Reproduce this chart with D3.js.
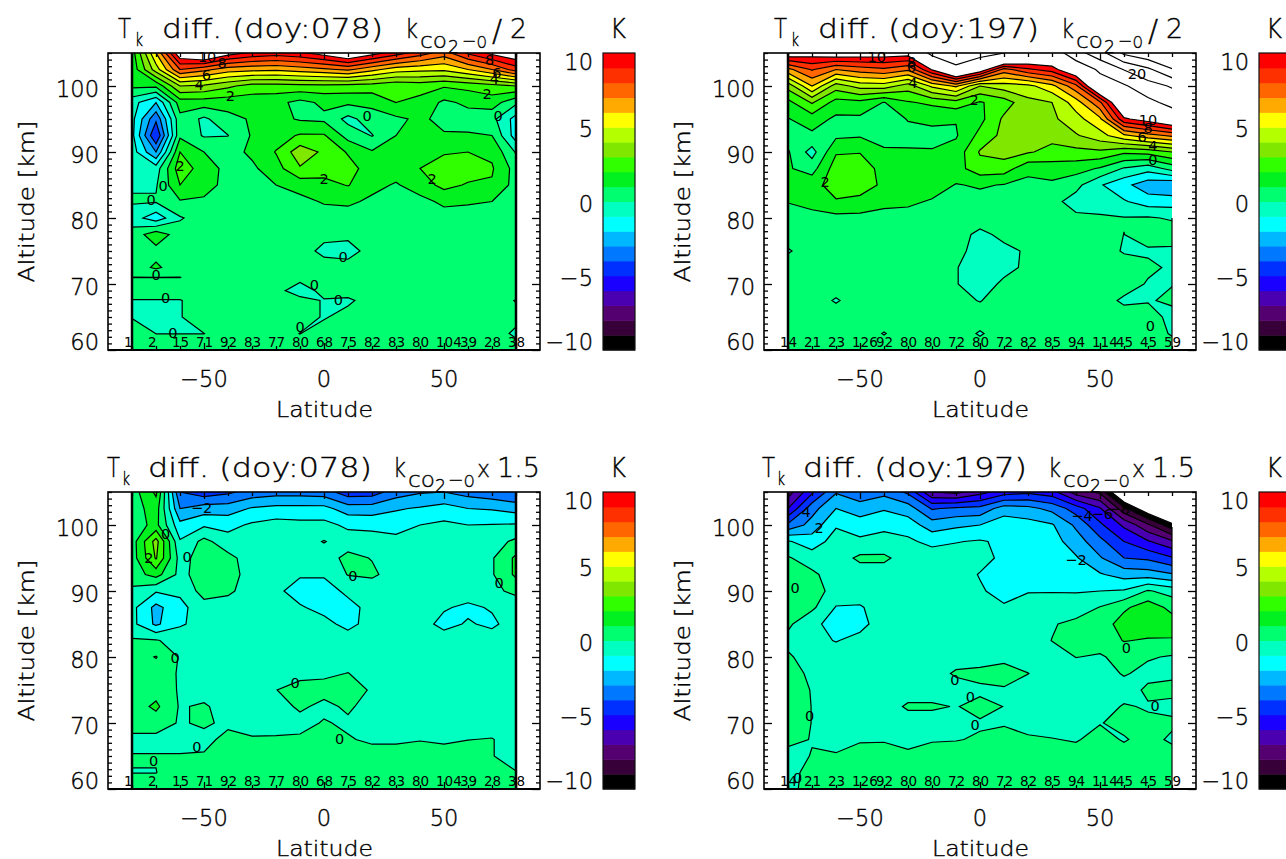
<!DOCTYPE html>
<html><head><meta charset="utf-8">
<script src="https://cdn.jsdelivr.net/npm/d3@7"></script>
<style>
html,body{margin:0;padding:0;background:#fff;overflow:hidden}
svg{display:block}
text{font-family:"DejaVu Sans",sans-serif;font-weight:200;fill:#000;stroke:#000;stroke-width:.4}
text.cl{font-weight:400;stroke-width:0}
</style></head><body><svg id="c" width="1286" height="859"></svg>
<script>
const lats=[-80,-70,-60,-50,-40,-30,-20,-10,0,10,20,30,40,50,60,70,80];
const alts=[105,102.5,100,97.5,95,92.5,90,87.5,85,82.5,80,77.5,75,72.5,70,67.5,65,62.5,60];
const altsFine=[105,102.5,100,97.5,95,92.5,90,87.5,85,82.5,80,77.5,75,72.5,71,69,67.5,65,62.5,60];
const countsDoy078=[1,2,15,71,92,83,77,80,68,75,82,83,80,104,39,28,38];
const countsDoy197=[14,21,23,126,92,80,80,72,80,72,82,85,94,114,45,45,59];
const levels=[-10,-9,-8,-7,-6,-5,-4,-3,-2,-1,0,1,2,3,4,5,6,7,8,9,10];
const extraLineLevels=[15,20,25,30];
const bandColors=["#000000","#380038","#550070","#4a00b0","#1a00ff","#0030ff","#0078ff","#00b8ff","#00ffff","#00ffc0","#00ff70","#00f020","#30ff00","#80e800","#b4ff00","#ffff00","#ffaa00","#ff6600","#ff3000","#ff0000"];
const tickAlts=[60,70,80,90,100];
const tickLats=[-50,0,50];
const barLabels=[10,5,0,-5,-10];

const diff078half=[
[1.5,6,11,12,10.5,9.8,9.5,9.8,10.5,11.5,10.5,9.5,8.5,7.5,9.2,10.3,11],
[1.3,4.5,8,7.3,6.5,6.3,6.2,6.5,6.8,7.2,6.3,5.5,5.3,5.2,6,7,8.5],
[1.2,1.2,4,3.8,3.2,2.6,2.6,2.7,2.7,2.6,2.5,2.2,2.4,2.1,2.3,2.6,3],
[-.6,-2,1.5,1.5,1.4,1.4,1.3,.7,1.2,1.2,1.3,2,1.7,.8,1.2,1.5,.2],
[-.7,-3.8,.7,-.2,.7,1.1,1.3,.9,.8,-.3,.5,.8,1.2,.7,.6,.3,-1.4],
[-.7,-5,.8,-.1,-.02,1.1,1.6,2.1,2.1,.6,-.05,1,1.3,1.1,1.1,1,-1.5],
[-.5,-3,2,1,.6,1.2,2.05,3.6,2.8,1.9,1.1,1.4,1.6,1.9,2,1.8,-.1],
[-.3,-.5,2.6,1.5,.7,.8,1.6,2.9,2.4,2.4,1.5,1.5,2,2.5,2.5,2.1,.6],
[-.1,-.1,2,1.5,.6,.7,1,1.4,1.7,2.05,1.3,.9,1.5,2.3,1.9,1.9,.6],
[.1,.1,.9,.8,.5,.5,.5,.7,1.1,1.2,.8,.6,.7,1.2,1.1,1,.5],
[-.5,-1.6,-.1,.5,.5,.5,.5,.5,.5,.5,.5,.5,.5,.6,.6,.6,.5],
[.4,1.6,.5,.5,.5,.5,.5,.5,.3,.3,.5,.5,.5,.5,.5,.5,.5],
[.5,.7,.5,.5,.5,.5,.5,.5,-.3,-.5,.5,.5,.5,.5,.5,.5,.5],
[.5,1.15,.5,.5,.5,.5,.5,.5,.5,.5,.5,.5,.5,.5,.5,.5,.5],
[-.01,-.01,-.01,.5,.5,.5,.5,.5,.5,.5,.5,.5,.5,.5,.5,.5,.5],
[.5,.5,.5,.5,.5,.5,.5,-.8,.5,.5,.5,.5,.5,.5,.5,.5,.5],
[-.05,-.05,-.05,.5,.5,.5,.5,.5,-.1,-.2,.5,.5,.5,.5,.5,.5,-.05],
[-.05,-.05,-.05,.5,.5,.5,.5,.5,-.1,.4,.5,.5,.5,.5,.5,.5,.3],
[.5,-.01,-.01,-.01,.5,.5,.5,-.02,.5,.5,.5,.5,.5,.5,.5,.5,-.2],
[.5,.5,.5,.5,.5,.5,.5,.5,.5,.5,.5,.5,.5,.5,.5,.5,.5]];

const diff197half=[
[11,10.6,11,10.8,10.7,10.6,16,20,16.5,15,12.5,12,18,23,31,34,38],
[6.7,8.1,7,7.5,7.8,7.2,10.1,13,11,7.6,8.8,9.5,11.5,15.8,20.2,24,29.5],
[3.4,6,3.5,4.4,4.5,3.5,5.2,6.2,4,4.5,4.7,5.7,7.7,12.5,14.4,18,20.5],
[1.7,3.1,1.6,1.7,.95,1.9,2.2,2.6,1.9,2.5,3.7,4,5.5,7.8,12.3,13.7,16.5],
[.95,1.5,.8,.8,.5,1.05,1.15,1.05,1.7,3.2,3.6,3.8,4.6,5.8,9.8,10.6,11.8],
[.6,.8,.8,.9,.75,.7,.8,.9,2.3,3.3,3.5,3.3,3.9,4.6,5.8,6.6,7.2],
[1.1,-.4,1.9,1.95,1.1,1.1,1.05,1.4,3.1,3.4,3.1,2.7,2.7,2.8,2.2,2.4,3],
[1.1,.6,2.5,2.6,1.6,1.5,1.5,1.6,2.6,2.5,1.3,1.5,1.4,.9,-.1,-.6,.4],
[1.2,1.6,2.5,2.5,1.8,1.6,1.5,.95,1.1,.95,.7,.8,.3,-.9,-1.7,-2.6,-2.9],
[1.05,1.3,1.9,1.7,1.3,1.2,.9,.7,.7,.6,.6,.3,-.4,-.7,-.9,-1.5,-1.5],
[.5,.7,.7,.7,.6,.6,.5,.5,.6,.5,.5,.5,.2,.2,.05,.1,-.1],
[.5,.5,.5,.5,.5,.5,.5,.5,-.3,.3,.5,.5,.5,.5,-.01,.5,.5],
[-.1,.5,.5,.5,.5,.5,.5,.3,-.4,-.3,.15,.5,.5,.5,-.1,-.15,-.2],
[.5,.5,.5,.5,.5,.5,.5,.05,-.5,-.3,.2,.5,.5,.5,.5,.2,-.15],
[.5,.5,.5,.5,.5,.5,.5,.05,-.5,.2,.5,.5,.5,.5,.5,-.1,-.02],
[.5,.5,-.1,.5,.5,.5,.5,.3,-.05,.5,.5,.5,.5,.5,-.2,-.05,.1],
[.5,.5,.5,.5,.5,.5,.5,.5,.5,.5,.5,.5,.5,.5,.5,.3,-.2],
[.5,.5,.5,.5,-.05,.5,.5,.5,-.1,.5,.5,.5,.5,.5,.5,.5,-.1],
[.5,.5,.5,.5,.5,.5,.5,.5,.5,.5,.5,.5,.5,.5,.5,.5,.5]];

const diff078x15=[
[.5,2.2,-4,-4.6,-4.2,-3.6,-3.4,-3.4,-3.5,-4.6,-4.5,-3.5,-3.1,-3,-3.4,-3.7,-4],
[.5,1.5,-3,-2.5,-2.5,-1.9,-1.7,-1.7,-1.7,-2.5,-2.5,-2.1,-1.9,-1.6,-2,-2.1,-2.4],
[.5,1.3,-1.7,-1.15,-1.3,-.85,-.6,-.7,-.7,-1.2,-1.3,-1.4,-1,-.8,-1,-.95,-.9],
[.5,3.4,-.9,.3,-.6,-.6,-.5,-.45,.05,-.5,-.5,-.7,-.5,-.4,-.5,-.4,.2],
[.5,3.1,-.4,.5,.3,-.5,-.5,-.5,-.5,.3,-.05,-.5,-.5,-.5,-.5,-.1,1.2],
[.5,1.4,-.3,.5,.5,-.5,-.7,-.9,-.9,.05,.2,-.5,-.5,-.5,-.5,-.1,1.2],
[-.2,-.9,-.8,.4,.2,-.5,-.8,-1.4,-1.4,-.8,-.7,-.5,-.5,-.5,-.5,-.2,.2],
[-.7,-2.3,-1.3,-.4,-.5,-.5,-.6,-.9,-1.3,-1.3,-.7,-.5,-.7,-.9,-1.2,-.9,-.5],
[-.7,-2.2,-1.1,-.7,-.5,-.5,-.5,-.6,-.7,-1.3,-.6,-.5,-.6,-1.3,-.9,-1.2,-.5],
[.1,.1,-.5,-.5,-.5,-.5,-.5,-.5,-.5,-.5,-.5,-.5,-.5,-.5,-.5,-.5,-.5],
[.5,1.05,-.1,-.5,-.5,-.5,-.5,-.5,-.5,-.5,-.5,-.5,-.5,-.5,-.5,-.5,-.5],
[.5,.5,-.1,-.5,-.5,-.5,-.5,-.3,-.2,.03,-.5,-.5,-.5,-.5,-.5,-.5,-.5],
[.5,.6,-.1,-.5,-.5,-.5,-.02,.4,.4,.4,-.1,-.5,-.5,-.5,-.5,-.5,-.5],
[.5,1.2,-.1,.15,-.5,-.5,-.5,.2,-.3,.2,-.5,-.5,-.5,-.5,-.5,-.5,-.5],
[.5,.5,-.1,.15,-.2,-.4,-.5,-.4,.1,-.2,-.5,-.5,-.5,-.5,-.5,-.5,-.5],
[-.3,-.3,-.3,-.3,.3,.1,.15,.2,.4,.1,-.2,-.2,-.05,-.2,-.02,.05,-.5],
[.05,.05,.05,.1,.5,.5,.5,.5,.5,.5,.5,.5,.5,.5,.5,.05,-.5],
[-.02,-.02,.5,.5,.5,.5,.5,.5,.5,.5,.5,.5,.5,.5,.5,.5,.05],
[.5,.5,.5,.5,.5,.5,.5,.5,.5,.5,.5,.5,.5,.5,.5,.5,.5]];

const diff197x15=[
[-7.5,-5.2,-3.1,-3.7,-3.3,-4.2,-7,-7.3,-6.4,-5.5,-5.2,-5.6,-7.5,-8.2,-12,-14,-18],
[-6,-3.4,-2,-2.5,-2.1,-2.5,-4.1,-3.8,-3.7,-2.5,-2.7,-3.3,-4.5,-5.9,-8.7,-11,-13],
[-3.8,-2.6,-1.1,-1.5,-1.2,-1.5,-2.5,-2.2,-2,-1.4,-1.6,-1.9,-3.2,-4.8,-6.2,-7.8,-9.7],
[-.9,-1.5,-.6,-.8,-.7,-.8,-1.3,-1.05,-.9,-1.2,-1.4,-1.6,-2.5,-3.7,-5,-5.9,-6.8],
[.1,-.5,-.5,.2,.2,-.5,-.4,-.5,-.7,-1.2,-1.5,-1.6,-1.9,-2.9,-4,-4.2,-4.9],
[.5,.2,-.5,-.5,-.5,-.5,-.5,-.6,-1.05,-1.4,-1.5,-1.4,-1.5,-1.9,-2.4,-2.5,-2.9],
[.6,.6,-.5,-.5,-.5,-.5,-.5,-.6,-.9,-1.3,-1.05,-1.05,-1.05,-1,-.9,.1,-.4],
[.6,.2,-1.05,-1.1,-.5,-.5,-.5,-.5,-.5,-.9,-.6,-.5,-.6,.05,.8,1.6,.7],
[.2,-.8,-1.3,-1.3,-.5,-.5,-.5,-.5,-.5,-.5,-.5,-.1,.3,.4,1.5,1.6,1.5],
[-.3,-.7,-1.05,-.7,-.5,-.5,-.5,-.5,-.5,-.5,-.5,.02,.4,.4,1.05,.9,.9],
[.15,-.5,-.5,-.5,-.5,-.5,-.5,-.5,-.5,-.5,-.5,-.5,.02,-.1,.3,.1,-.1],
[.1,-.05,-.5,-.5,-.5,-.5,-.5,.15,.3,.8,.02,-.5,-.5,-.5,.1,-.3,-.2],
[.5,-.05,-.5,-.5,-.5,-.5,-.5,-.5,-.2,-.2,-.5,-.5,-.5,-.5,-.5,.2,.3],
[.5,-.02,-.5,-.5,-.5,.15,.15,-.05,.3,-.02,-.5,-.5,-.5,-.5,.1,-.1,-.3],
[.5,-.02,-.5,-.5,-.5,-.5,-.5,-.3,-.1,-.1,-.5,-.5,-.5,-.05,.3,.2,.2],
[.3,-.05,-.4,-.1,-.1,-.3,-.1,-.05,.1,.4,.2,.05,-.1,.4,-.1,.4,-.2],
[-.4,.05,.1,.4,.5,.2,.5,.5,.5,.5,.5,.5,.5,.5,.5,.5,.5],
[-.4,.4,.5,.5,.5,.5,.5,.5,.5,.5,.5,.5,.5,.5,.5,.5,.5],
[-.3,.4,.5,.5,.5,.5,.5,.5,.5,.5,.5,.5,.5,.5,.5,.5,.5]];

// contour labels: [text, latitude, altitude]
const labels078half=[["10",-48.7,104.4],["8",-42.5,103.5],["6",-49,101.7],["4",-52,100.2],["2",-39,98.5],["2",0,86],["2",-60,88],["0",-72,82.8],["0",-70,71.4],["0",-66,68],["0",-63,62.6],["0",-67,85],["0",18,95.5],["2",68,98.8],["0",72.5,95.6],["8",69,104],["6",72,102.1],["4",71,101.2],["2",45,86],["0",8,74.2],["0",6,67.7],["0",-4,70],["0",-10,63.5]];
const labels197half=[["10",-43,104.4],["8",-28.5,103.7],["6",-28.5,102.9],["4",-28,100.6],["2",-2.5,97.9],["2",-64.5,85.6],["20",65.4,101.9],["10",70,95],["8",70,93.7],["6",67.5,92.3],["4",72,91],["0",72,88.9],["0",71,63.7]];
const labels078x15=[["−2",-51,102.7],["0",-57,95.2],["0",-62,79.9],["0",-53,66.4],["0",-12,76.2],["0",-71,64.3],["0",-66,98.7],["2",-73,95.1],["0",12,92.4],["0",73,91.3],["0",6.5,67.7]];
const labels197x15=[["4",-72.5,102],["2",-67,99.6],["0",-77,90.6],["0",-71,71.1],["0",-76,61.8],["0",-10.5,76.6],["0",-4,74],["0",-2,69.7],["−4",42.5,101.4],["−6",51,101.8],["−8",58,102.5],["−2",40,94.8],["0",61,81.5],["0",73,72.6]];

const panels=[
 {data:diff078half,rowAlts:altsFine,counts:countsDoy078,labels:labels078half,x0:108,y0:53,doy:"078",tail:"/2",edgeR:[0,297],edgeRw:2.5},
 {data:diff197half,rowAlts:alts,counts:countsDoy197,labels:labels197half,x0:764,y0:53,doy:"197",tail:"/2",edgeR:[165,297],edgeRw:1.2},
 {data:diff078x15,rowAlts:alts,counts:countsDoy078,labels:labels078x15,x0:108,y0:492,doy:"078",tail:"x1.5",edgeR:[0,297],edgeRw:2.5},
 {data:diff197x15,rowAlts:alts,counts:countsDoy197,labels:labels197x15,x0:764,y0:492,doy:"197",tail:"x1.5",edgeR:[35,297],edgeRw:1.2}
];
const W=432,H=297;
const svg=d3.select("#c");
const fmt=d=>String(d).replace("-","−");

function T(g,s,x,y,size,len,anchor){
  const t=g.append("text").attr("x",x).attr("y",y).attr("font-size",size).text(s);
  if(len){t.attr("textLength",len).attr("lengthAdjust","spacingAndGlyphs");}
  if(anchor)t.attr("text-anchor",anchor);
  return t;
}

panels.forEach((p,pi)=>{
  const g=svg.append("g").attr("transform",`translate(${p.x0},${p.y0})`);
  const x=d3.scaleLinear().domain([-90,90]).range([0,W]);
  const y=d3.scaleLinear().domain([60,105]).range([H,0]);
  const cid="clip"+pi;
  g.append("clipPath").attr("id",cid).append("rect")
    .attr("x",x(-80)).attr("y",0).attr("width",x(80)-x(-80)).attr("height",H);
  const sx=d3.scaleLinear().domain(lats.map((_,i)=>i+.5)).range(lats.map(x));
  const sy=d3.scaleLinear().domain(p.rowAlts.map((_,i)=>i+.5)).range(p.rowAlts.map(y));
  const path=d3.geoPath(d3.geoTransform({point(a,b){this.stream.point(sx(a),sy(b));}}));
  const flat=p.data.flat();
  const gen=d3.contours().size([lats.length,p.rowAlts.length]);
  const field=g.append("g").attr("clip-path",`url(#${cid})`);
  levels.forEach((lv,i)=>{
    field.append("path").attr("d",path(gen.contour(flat,lv))).attr("fill",i<20?bandColors[i]:"#fff");
  });
  levels.concat(extraLineLevels).forEach(lv=>{
    field.append("path").attr("d",path(gen.contour(flat,lv))).attr("fill","none").attr("stroke","#000").attr("stroke-width",1.2);
  });
  const lg=g.append("g");
  p.labels.forEach(([s,la,al])=>{
    lg.append("text").attr("class","cl").attr("x",x(la)).attr("y",y(al)+5.5).attr("text-anchor","middle").attr("font-size",14.5).text(s);
  });
  g.append("line").attr("x1",x(-80)).attr("x2",x(-80)).attr("y1",0).attr("y2",H).attr("stroke","#000").attr("stroke-width",2.5);
  g.append("line").attr("x1",x(80)).attr("x2",x(80)).attr("y1",p.edgeR[0]).attr("y2",p.edgeR[1]).attr("stroke","#000").attr("stroke-width",p.edgeRw);
  const minorA=d3.range(60,106).filter(a=>a%10);
  const minorL=lats.filter(l=>l%50);
  const ax=(gen,sel)=>{sel.call(gen);sel.selectAll(".domain").remove();sel.selectAll("text").remove();sel.selectAll("line").attr("stroke","#000").attr("stroke-width",1.3);};
  ax(d3.axisLeft(y).tickValues(tickAlts).tickSize(-8),g.append("g"));
  ax(d3.axisLeft(y).tickValues(minorA).tickSize(-4),g.append("g"));
  ax(d3.axisRight(y).tickValues(tickAlts).tickSize(-8),g.append("g").attr("transform",`translate(${W},0)`));
  ax(d3.axisRight(y).tickValues(minorA).tickSize(-4),g.append("g").attr("transform",`translate(${W},0)`));
  ax(d3.axisBottom(x).tickValues(tickLats).tickSize(-7),g.append("g").attr("transform",`translate(0,${H})`));
  ax(d3.axisBottom(x).tickValues(minorL).tickSize(-4),g.append("g").attr("transform",`translate(0,${H})`));
  ax(d3.axisTop(x).tickValues(tickLats).tickSize(-7),g.append("g"));
  ax(d3.axisTop(x).tickValues(minorL).tickSize(-4),g.append("g"));
  g.append("rect").attr("width",W).attr("height",H).attr("fill","none").attr("stroke","#000").attr("stroke-width",1.6);
  g.append("line").attr("x1",0).attr("x2",W).attr("y1",H).attr("y2",H).attr("stroke","#000").attr("stroke-width",2);
  tickAlts.forEach(a=>{T(g,String(a),-9,a===60?H:y(a)+10.5,22.5,null,"end");});
  tickLats.forEach(l=>{T(g,fmt(l),x(l),H+37,22.5,null,"middle");});
  T(g,"Latitude",x(0)-48,H+67,21,97);
  g.append("text").attr("transform",`translate(-74,${H/2}) rotate(-90)`).attr("text-anchor","middle")
    .attr("font-size",22).attr("textLength",162).attr("lengthAdjust","spacingAndGlyphs").text("Altitude [km]");
  p.counts.forEach((c,i)=>{T(g,String(c),x(lats[i])-8,H-3,13.5).style("font-weight",400).style("stroke-width",0);});
  const bl=-15;
  if(p.tail==="/2"){
    const ox=pi%2?656:0, X=v=>v+ox-p.x0;
    T(g,"T",X(118),bl,27,13);T(g,"k",X(135),bl+8,17,8);
    T(g,`diff. (doy:${p.doy})`,X(162),bl,27,221);
    T(g,"k",X(405),bl,27,13);T(g,"co",X(420),bl+10,22,27);T(g,"2",X(448),bl+15,17,11);T(g,"−o",X(462),bl+10,22,25);
    T(g,"/",X(492),bl+3,30);T(g,"2",X(510),bl,27,17);
  } else {
    const ox=pi%2?655:0, X=v=>v+ox-p.x0;
    T(g,"T",X(107),bl,27,13);T(g,"k",X(122),bl+8,17,8);
    T(g,`diff. (doy:${p.doy})`,X(148),bl,27,224);
    T(g,"k",X(393),bl,27,13);T(g,"co",X(408),bl+10,22,27);T(g,"2",X(435),bl+15,17,11);T(g,"−o",X(448),bl+10,22,27);
    T(g,"x",X(477),bl,23,13);T(g,"1.5",X(497),bl,27,43);
  }
  const bx=W+63, bw=32;
  const cb=d3.scaleLinear().domain([-10,10]).range([H,0]);
  bandColors.forEach((c,i)=>{
    g.append("rect").attr("x",bx).attr("y",cb(levels[i+1])).attr("width",bw).attr("height",cb(levels[i])-cb(levels[i+1])+.5).attr("fill",c);
  });
  g.append("rect").attr("x",bx).attr("y",0).attr("width",bw).attr("height",H).attr("fill","none").attr("stroke","#111").attr("stroke-width",1.2);
  barLabels.forEach(v=>{
    const yy=v===10?17:v===-10?H:cb(v)+10;
    T(g,fmt(v),W+53,yy,22.5,null,"end");
  });
  T(g,"K",W+70,bl,26,16);
});
</script></body></html>
